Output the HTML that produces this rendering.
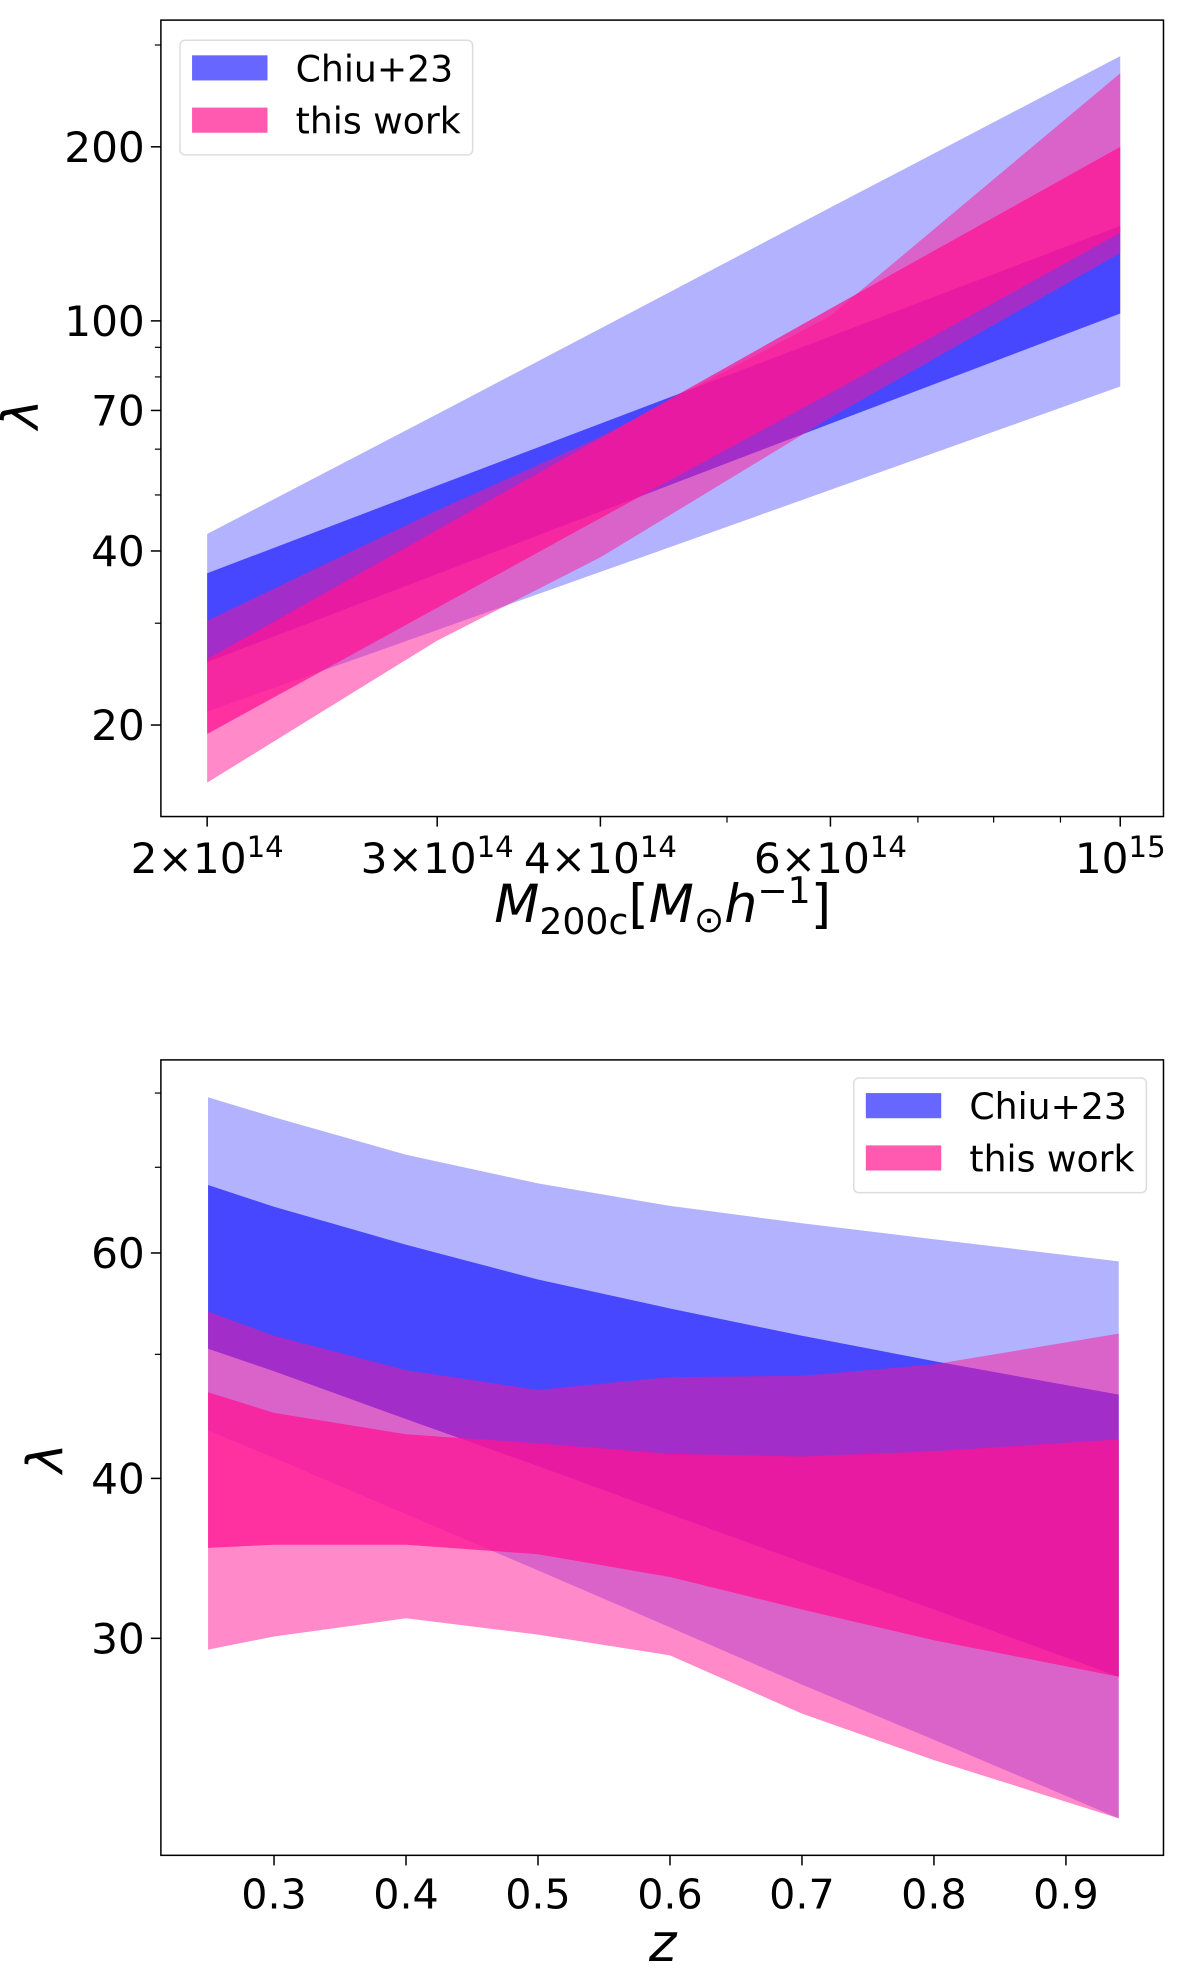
<!DOCTYPE html>
<html><head><meta charset="utf-8">
<style>
html,body{margin:0;padding:0;background:#fff;}
svg{display:block;font-family:"DejaVu Sans","Liberation Sans",sans-serif;}
</style></head>
<body>
<svg id="fig" width="1200" height="1969" viewBox="0 0 1200 1969">
 <g transform="scale(1.0056)">
  <g id="top"></g>
  <g id="bot"></g>
 </g>
</svg>
<script>
// ---- Top panel data (mass in units of 1e14) ----
const massGrid = [2, 3, 4, 6, 10];
const chiu95LoM = [21.1, 29.2, 36.8, 51, 77];
const chiu95HiM = [42.8, 69, 97, 157, 287];
const chiu68LoM = [25.7, 36.5, 46.8, 66.4, 103];
const chiu68HiM = [36.6, 51.9, 66.4, 94, 146];
const work95LoM = [15.9, 28, 39, 68, 131];
const work95HiM = [30.3, 47, 63, 102, 268];
const work68LoM = [19.3, 31.9, 45.6, 75, 142];
const work68HiM = [26, 43.5, 62.7, 105, 200];
const massTickVals = [2, 3, 4, 6, 10];
const massTickLabels = ["2×10<tspan dy='-16' font-size='29'>14</tspan>", "3×10<tspan dy='-16' font-size='29'>14</tspan>", "4×10<tspan dy='-16' font-size='29'>14</tspan>", "6×10<tspan dy='-16' font-size='29'>14</tspan>", "10<tspan dy='-16' font-size='29'>15</tspan>"];
const massMinor = [5, 7, 8, 9];
const lamTicksTop = [20, 40, 70, 100, 200];
const lamMinorTop = [30, 50, 60, 80, 90, 300];

// ---- Bottom panel data ----
const zGrid = [0.25, 0.3, 0.4, 0.5, 0.6, 0.7, 0.8, 0.94];
const chiu95HiZ = [79.4, 76.6, 71.6, 68.0, 65.3, 63.3, 61.5, 59.1];
const chiu95LoZ = [43.6, 41.5, 37.5, 33.9, 30.6, 27.6, 25.0, 21.7];
const chiu68HiZ = [67.8, 65.2, 60.9, 57.2, 54.3, 51.7, 49.4, 46.5];
const chiu68LoZ = [50.5, 48.5, 44.5, 40.9, 37.5, 34.4, 31.6, 28.0];
const work95HiZ = [54.0, 51.7, 48.6, 46.9, 48.0, 48.1, 49.1, 51.9];
const work95LoZ = [29.4, 30.1, 31.1, 30.2, 29.1, 26.2, 24.1, 21.7];
const work68HiZ = [46.7, 45.0, 43.3, 42.6, 41.8, 41.6, 42.0, 42.9];
const work68LoZ = [35.3, 35.5, 35.5, 34.9, 33.5, 31.6, 29.9, 28.0];
const zTicks = [0.3, 0.4, 0.5, 0.6, 0.7, 0.8, 0.9];
const lamTicksBot = [30, 40, 60];
const lamMinorBot = [50, 70, 80];

const NS = "http://www.w3.org/2000/svg";
function mk(tag, attrs, parent){const e=document.createElementNS(NS,tag);for(const k in attrs)e.setAttribute(k,attrs[k]);parent.appendChild(e);return e;}

const C95 = "rgba(0,0,255,0.3)", C68 = "rgba(0,0,255,0.6)";
const P95 = "rgba(255,20,147,0.5)", P68 = "rgba(255,20,147,0.75)";

const T = {x0:160, x1:1157, y0:20, y1:812};
const xTop = m => 206 + Math.log10(m/2)/Math.log10(5)*908;
const yTop = l => 146 - Math.log10(l/200)*575;
const B = {x0:160, x1:1157, y0:1054, y1:1845};
const xBot = z => 272.5 + (z-0.3)*1312.5;
const yBot = l => 1246 - Math.log10(l/60)*1273;

function band(g, xs, lo, hi, fx, fy, fill, name){
  let d = "";
  xs.forEach((v,i)=>{d += (i?"L":"M")+fx(v).toFixed(1)+","+fy(hi[i]).toFixed(1);});
  for(let i=xs.length-1;i>=0;i--) d += "L"+fx(xs[i]).toFixed(1)+","+fy(lo[i]).toFixed(1);
  const p = mk("path",{d:d+"Z",fill:fill},g);
  
  
}

function frame(g, A, name){
  const r = mk("rect",{x:A.x0,y:A.y0,width:A.x1-A.x0,height:A.y1-A.y0,fill:"none",stroke:"#000","stroke-width":1.5},g);
  
  
}

function legend(g, x, y, name){
  const lg = mk("g",{},g);
  
  
  mk("rect",{x:x,y:y,width:291,height:114,rx:5,fill:"#fff",stroke:"#ddd","stroke-width":1.5},lg);
  const p1 = mk("rect",{x:x+12,y:y+15,width:75,height:25,fill:"#6767ff"},lg);
  
  
  const p2 = mk("rect",{x:x+12,y:y+67,width:75,height:25,fill:"#ff5aaf"},lg);
  
  
  const t1 = mk("text",{x:x+115,y:y+41,"font-size":36},lg); t1.textContent="Chiu+23";
  
  
  const t2 = mk("text",{x:x+115,y:y+93,"font-size":36},lg); t2.textContent="this work";
  
  
}

// ---- Top panel ----
const gt = document.getElementById("top");
band(gt, massGrid, chiu95LoM, chiu95HiM, xTop, yTop, C95, "band-chiu23-95");
band(gt, massGrid, chiu68LoM, chiu68HiM, xTop, yTop, C68, "band-chiu23-68");
band(gt, massGrid, work95LoM, work95HiM, xTop, yTop, P95, "band-this-work-95");
band(gt, massGrid, work68LoM, work68HiM, xTop, yTop, P68, "band-this-work-68");
frame(gt, T, "top-axes-frame");
massTickVals.forEach((m,i)=>{
  const x = xTop(m);
  mk("line",{x1:x,x2:x,y1:T.y1,y2:T.y1+10,stroke:"#000","stroke-width":1.5},gt);
  const t = mk("text",{x:x,y:T.y1+56,"font-size":42,"text-anchor":"middle"},gt);
  t.innerHTML = massTickLabels[i];
  
  
});
massMinor.forEach(m=>{const x=xTop(m);mk("line",{x1:x,x2:x,y1:T.y1,y2:T.y1+6,stroke:"#000","stroke-width":1.2},gt);});
lamTicksTop.forEach(l=>{
  const y = yTop(l);
  mk("line",{x1:T.x0-10,x2:T.x0,y1:y,y2:y,stroke:"#000","stroke-width":1.5},gt);
  const t = mk("text",{x:T.x0-16,y:y+15,"font-size":42,"text-anchor":"end"},gt);
  t.textContent = l;
  
  
});
lamMinorTop.forEach(l=>{const y=yTop(l);if(y>T.y0)mk("line",{x1:T.x0-6,x2:T.x0,y1:y,y2:y,stroke:"#000","stroke-width":1.2},gt);});
legend(gt, 179, 40, "top-legend");
{
  const t = mk("text",{x:659,y:917,"font-size":52,"text-anchor":"middle","font-style":"italic"},gt);
  t.innerHTML = "M<tspan dy='12' font-size='36' font-style='normal'>200c</tspan><tspan dy='-12' font-style='normal'>[</tspan>M<tspan dy='10' font-size='36' font-style='normal'>⊙</tspan><tspan dy='-10'>h</tspan><tspan dy='-19' font-size='36' font-style='normal'>−1</tspan><tspan dy='19' font-style='normal'>]</tspan>";
  
  
  const yl = mk("text",{x:0,y:0,"font-size":50,"text-anchor":"middle","font-style":"italic",transform:"translate(38,412) rotate(-90)"},gt);
  yl.textContent = "λ";
  
  
}

// ---- Bottom panel ----
const gb = document.getElementById("bot");
band(gb, zGrid, chiu95LoZ, chiu95HiZ, xBot, yBot, C95, "band-chiu23-95-z");
band(gb, zGrid, chiu68LoZ, chiu68HiZ, xBot, yBot, C68, "band-chiu23-68-z");
band(gb, zGrid, work95LoZ, work95HiZ, xBot, yBot, P95, "band-this-work-95-z");
band(gb, zGrid, work68LoZ, work68HiZ, xBot, yBot, P68, "band-this-work-68-z");
frame(gb, B, "bottom-axes-frame");
zTicks.forEach(z=>{
  const x = xBot(z);
  mk("line",{x1:x,x2:x,y1:B.y1,y2:B.y1+10,stroke:"#000","stroke-width":1.5},gb);
  const t = mk("text",{x:x,y:B.y1+53,"font-size":41,"text-anchor":"middle"},gb);
  t.textContent = z.toFixed(1);
  
  
});
lamTicksBot.forEach(l=>{
  const y = yBot(l);
  mk("line",{x1:B.x0-10,x2:B.x0,y1:y,y2:y,stroke:"#000","stroke-width":1.5},gb);
  const t = mk("text",{x:B.x0-16,y:y+15,"font-size":42,"text-anchor":"end"},gb);
  t.textContent = l;
  
  
});
lamMinorBot.forEach(l=>{const y=yBot(l);mk("line",{x1:B.x0-6,x2:B.x0,y1:y,y2:y,stroke:"#000","stroke-width":1.2},gb);});
legend(gb, 849, 1072, "bottom-legend");
{
  const t = mk("text",{x:659,y:1950,"font-size":52,"text-anchor":"middle","font-style":"italic"},gb);
  t.textContent = "z";
  
  
  const yl = mk("text",{x:0,y:0,"font-size":50,"text-anchor":"middle","font-style":"italic",transform:"translate(62,1450) rotate(-90)"},gb);
  yl.textContent = "λ";
  
  
}
</script>
</body></html>
